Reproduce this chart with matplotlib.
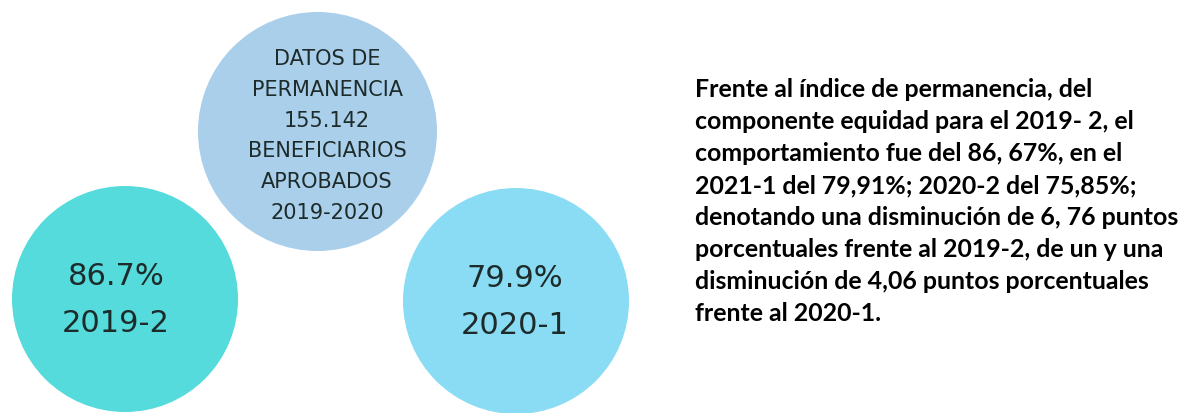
import matplotlib.pyplot as plt
from matplotlib.patches import Circle

# Retention (permanencia) per period
periods = ['2019-2', '2020-1']
retention = [86.7, 79.9]

# Central summary bubble
summary_lines = ['DATOS DE', 'PERMANENCIA', '155.142', 'BENEFICIARIOS',
                 'APROBADOS', '2019-2020']

# Commentary on the right
note_lines = [
    'Frente al índice de permanencia, del',
    'componente equidad para el 2019- 2, el',
    'comportamiento fue del 86, 67%, en el',
    '2021-1 del 79,91%; 2020-2 del 75,85%;',
    'denotando una disminución de 6, 76 puntos',
    'porcentuales frente al 2019-2, de un y una',
    'disminución de 4,06 puntos porcentuales',
    'frente al 2020-1.',
]

fig = plt.figure(figsize=(11.84, 4.14), dpi=100)
ax = fig.add_axes([0, 0, 1, 1])
ax.set_xlim(0, 1184)
ax.set_ylim(414, 0)
ax.axis('off')

txt_color = '#1e2b2b'

# summary bubble
ax.add_patch(Circle((317.5, 132.5), 119.5, color='#a9cfea', lw=0))
for i, line in enumerate(summary_lines):
    ax.text(327, 65 + i * 30.8, line, ha='center', va='baseline',
            fontsize=15, color=txt_color, family='DejaVu Sans')

# period bubbles
bubble_pos = [(125, 300), (516, 302)]
bubble_col = ['#55dbdb', '#89dcf3']
text_x = [116, 515]
for (cx, cy), col, tx, per, val in zip(bubble_pos, bubble_col, text_x, periods, retention):
    ax.add_patch(Circle((cx, cy), 113, color=col, lw=0))
    ax.text(tx, cy - 15, f'{val:.1f}%', ha='center', va='baseline',
            fontsize=22, color=txt_color, family='DejaVu Sans')
    ax.text(tx, cy + 32, per, ha='center', va='baseline',
            fontsize=22, color=txt_color, family='DejaVu Sans')

# commentary
for i, line in enumerate(note_lines):
    ax.text(695, 97 + i * 32, line, ha='left', va='baseline',
            fontsize=17.9, fontweight='bold', color='black', family='Lato')

fig.savefig('out.png', dpi=100)
